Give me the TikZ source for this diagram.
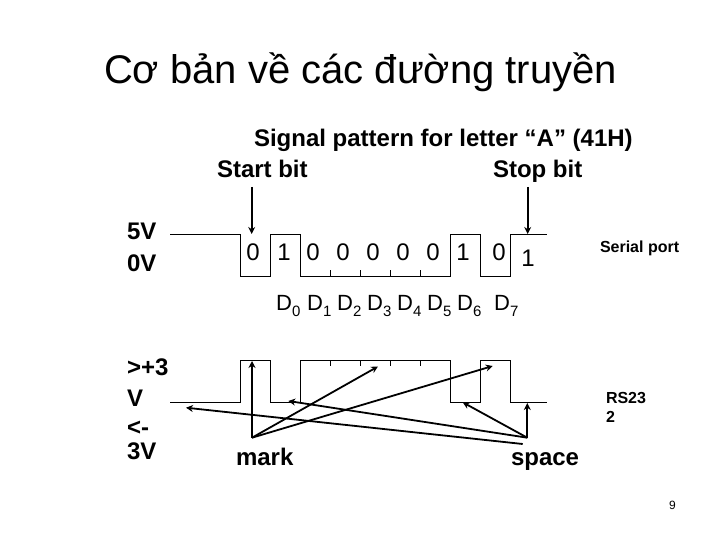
\documentclass[tikz,border=0pt]{standalone}
\usepackage{fontspec}
\setmainfont{Liberation Sans}
\usetikzlibrary{arrows.meta}
\tikzset{
  sig/.style={draw=black,line width=0.9pt,line join=miter},
  arr/.style={draw=black,line width=1.8pt,-{Stealth[length=7pt,width=7pt]}},
  lbl/.style={anchor=base west,inner sep=0pt,outer sep=0pt,text=black,font=\fontsize{#1}{#1}\selectfont},
  lbl/.default=24,
  blbl/.style={anchor=base west,inner sep=0pt,outer sep=0pt,text=black,font=\fontsize{#1}{#1}\selectfont\bfseries},
  blbl/.default=24,
  bits/.style={anchor=base,inner sep=0pt,outer sep=0pt,text=black,font=\fontsize{24}{24}\selectfont},
  dsub/.style={anchor=base west,inner sep=0pt,outer sep=0pt,text=black,font=\fontsize{15}{15}\selectfont}
}
\begin{document}
\begin{tikzpicture}[x=1pt,y=-1pt]
\path[use as bounding box,fill=white] (0,0) rectangle (720,540);
\node[lbl=40] (title) at (104,84) {Cơ bản về các đường truyền};
\node[blbl=24] (sigt) at (254,147) {Signal pattern for letter “A” (41H)};
\node[blbl=24] (startl) at (217,178) {Start bit};
\node[blbl=24] (stopl) at (493,178) {Stop bit};
\node[blbl=24] (fiveV) at (127,240) {5V};
\node[blbl=24] (zeroV) at (127,271) {0V};
\node[blbl=16] (serial) at (600,252) {Serial port};
\node[blbl=24] (p3a) at (127,375) {>+3};
\node[blbl=24] (p3b) at (127,406) {V};
\node[blbl=24] (p3c) at (127,435) {<-};
\node[blbl=24] (p3d) at (127,459) {3V};
\node[blbl=16] (rsa) at (606,403) {RS23};
\node[blbl=16] (rsb) at (606,422) {2};
\node[blbl=24] (markl) at (236,465) {mark};
\node[blbl=24] (spacel) at (511,465) {space};
\node[lbl=12] (pageno) at (669,509) {9};
% bit values
\node[bits] (b0) at (253,260) {0};
\node[bits] (b1) at (284,260) {1};
\node[bits] (b2) at (313,260) {0};
\node[bits] (b3) at (343,260) {0};
\node[bits] (b4) at (373,260) {0};
\node[bits] (b5) at (403,260) {0};
\node[bits] (b6) at (433,260) {0};
\node[bits] (b7) at (463,260) {1};
\node[bits] (b8) at (499,260) {0};
\node[bits] (b9) at (528,266) {1};
% D labels
\foreach \n/\x/\s in {0/276/0,1/307/1,2/337/2,3/367/3,4/397/4,5/427/5,6/457/6,7/494/7}{
  \node[lbl=22] (d\n) at (\x,310) {D};
  \node[dsub] (ds\n) at (\x+16,316) {\s};
}
% top waveform
\draw[sig] (170,234.3) -- (240.7,234.3) -- (240.7,276.3) -- (270.7,276.3) -- (270.7,234.3) -- (300.7,234.3) -- (300.7,276.3) -- (450.7,276.3) -- (450.7,234.3) -- (480.7,234.3) -- (480.7,276.3) -- (510.7,276.3) -- (510.7,234.3) -- (546.7,234.3);
\foreach \x in {330.7,360.7,390.7,420.7} \draw[sig] (\x,276.3) -- (\x,270.3);
% bottom waveform
\draw[sig] (170,402.3) -- (240.7,402.3) -- (240.7,360.3) -- (270.7,360.3) -- (270.7,402.3) -- (300.7,402.3) -- (300.7,360.3) -- (450.7,360.3) -- (450.7,402.3) -- (480.7,402.3) -- (480.7,360.3) -- (510.7,360.3) -- (510.7,402.3) -- (546.7,402.3);
\foreach \x in {330.7,360.7,390.7,420.7} \draw[sig] (\x,360.3) -- (\x,366.3);
% arrow anchors
\coordinate (startTail) at (251.7,187);
\coordinate (startHead) at (251.7,234);
\coordinate (stopTail) at (527.7,187);
\coordinate (stopHead) at (527.7,234);
\coordinate (markPt) at (252,437.7);
\coordinate (spacePt) at (527.3,437.7);
\coordinate (spaceB) at (522.7,444);
\coordinate (mA) at (252,361);
\coordinate (mB) at (378,366.5);
\coordinate (mC) at (492.7,366);
\coordinate (sA) at (527.3,403);
\coordinate (sB) at (462.7,402.3);
\coordinate (sC) at (288.3,401);
\coordinate (sD) at (186,407.7);
\draw[arr] (startTail) -- (startHead);
\draw[arr] (stopTail) -- (stopHead);
\draw[arr] (markPt) -- (mA);
\draw[arr] (markPt) -- (mB);
\draw[arr] (markPt) -- (mC);
\draw[arr] (spacePt) -- (sA);
\draw[arr] (spacePt) -- (sB);
\draw[arr] (spacePt) -- (sC);
\draw[arr] (spaceB) -- (sD);
\end{tikzpicture}
\end{document}
